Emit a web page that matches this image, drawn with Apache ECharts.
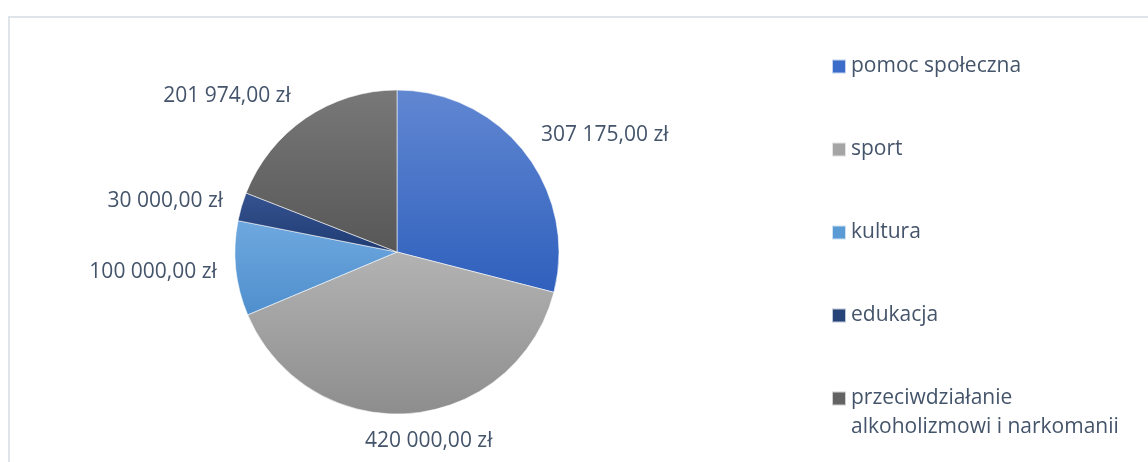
<!DOCTYPE html>
<html>
<head>
<meta charset="utf-8">
<script src="https://cdn.jsdelivr.net/npm/echarts@6/dist/echarts.min.js"></script>
<style>
html,body{margin:0;padding:0;background:#fff;}
#wrap{position:relative;width:1148px;height:462px;overflow:hidden;}
#frame{position:absolute;left:8px;top:16px;width:1200px;height:500px;border-left:2px solid #dfe3ea;border-top:2px solid #dfe3ea;box-sizing:border-box;}
#chart{position:absolute;left:0;top:0;width:1148px;height:462px;}
</style>
</head>
<body>
<div id="wrap"><div id="frame"></div><div id="chart"></div></div>
<script>
const categories = ['pomoc społeczna', 'sport', 'kultura', 'edukacja', 'przeciwdziałanie alkoholizmowi i narkomanii'];
const values = [307175, 420000, 100000, 30000, 201974];
const topColors = ['#6187d2', '#b3b3b3', '#6ea8df', '#365391', '#787878'];
const bottomColors = ['#2f60bd', '#8d8d8d', '#4f8fcd', '#1f3b72', '#575757'];
const legendColors = ['#3b6cc9', '#a5a5a5', '#5b9bd5', '#264478', '#636363'];
// small per-label nudges to mimic the original "outside end" placement
const labelNudgeX = [0, -50, 0, 0, -2];
const labelNudgeY = [-9, 13, 2, -2, -11];

const FONT = '"Open Sans", sans-serif';
const TXT = '#44546a';

function fmt(v) {
  const s = String(Math.round(v)).replace(/\B(?=(\d{3})+(?!\d))/g, ' ');
  return s + ',00 zł';
}

const chart = echarts.init(document.getElementById('chart'));
const data = categories.map((c, i) => ({
  name: c,
  value: values[i],
  itemStyle: {
    color: {
      type: 'linear', x: 0, y: 0, x2: 0, y2: 1,
      colorStops: [{offset: 0, color: topColors[i]}, {offset: 1, color: bottomColors[i]}]
    }
  }
}));
const lastName = categories[categories.length - 1];
const legendText = {color: TXT, fontSize: 21, fontFamily: FONT, lineHeight: 20};

chart.setOption({
  animation: false,
  color: legendColors,
  legend: [{
    orient: 'vertical',
    left: 831,
    top: 56,
    padding: 0,
    itemWidth: 14,
    itemHeight: 14,
    itemGap: 62,
    icon: 'rect',
    textStyle: legendText,
    data: categories.map((c, i) => ({name: c, itemStyle: {color: legendColors[i]}})),
    formatter: function (name) { return name === lastName ? 'przeciwdziałanie' : name; }
  }, {
    orient: 'vertical',
    left: 831,
    top: 417,
    padding: 0,
    itemWidth: 14,
    itemHeight: 14,
    icon: 'rect',
    itemStyle: {opacity: 0},
    textStyle: legendText,
    data: [lastName],
    formatter: function () { return 'alkoholizmowi i narkomanii'; }
  }],
  series: [{
    type: 'pie',
    center: [397, 252],
    radius: 162,
    startAngle: 90,
    clockwise: true,
    data: data,
    itemStyle: {borderColor: 'rgba(255,255,255,0.7)', borderWidth: 0.8},
    label: {
      show: true,
      position: 'outside',
      formatter: p => fmt(p.value),
      color: TXT,
      fontSize: 21,
      fontFamily: FONT
    },
    labelLine: {show: false, length: 14, length2: 0},
    labelLayout: function (p) {
      return {dx: labelNudgeX[p.dataIndex], dy: labelNudgeY[p.dataIndex]};
    },
    emphasis: {disabled: true}
  }]
});
</script>
</body>
</html>
